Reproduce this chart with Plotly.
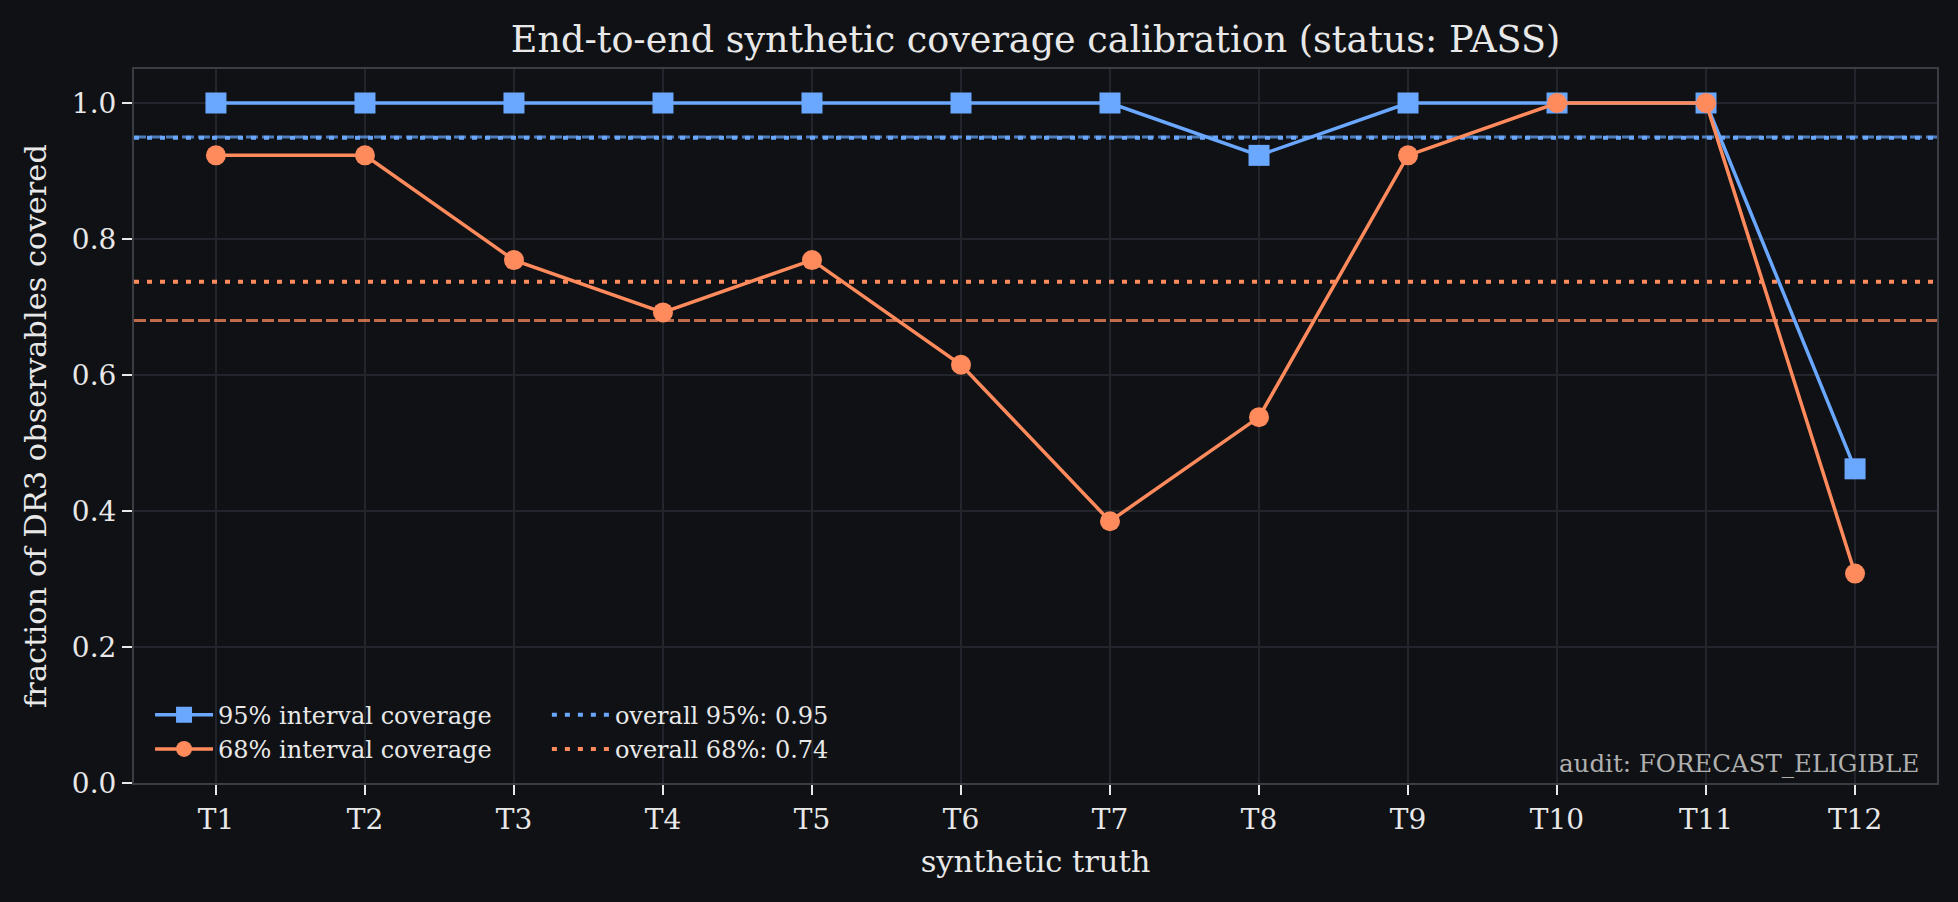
import plotly.graph_objects as go

truths = ["T1", "T2", "T3", "T4", "T5", "T6", "T7", "T8", "T9", "T10", "T11", "T12"]
cov95 = [1.0, 1.0, 1.0, 1.0, 1.0, 1.0, 1.0, 0.923, 1.0, 1.0, 1.0, 0.462]
cov68 = [0.923, 0.923, 0.769, 0.692, 0.769, 0.615, 0.385, 0.538, 0.923, 1.0, 1.0, 0.308]
overall95 = 0.949
overall68 = 0.737
nominal95 = 0.95
nominal68 = 0.68
yticks = [0.0, 0.2, 0.4, 0.6, 0.8, 1.0]

BG = "#0f1115"
BLUE = "#6aa8ff"
ORANGE = "#ff8a5c"
GRID = "#22252b"
SPINE = "#3a3d44"
TXT = "#e8e8e8"
FONT = "DejaVu Serif"

xi = list(range(len(truths)))
xr = [-0.55, len(truths) - 1 + 0.55]

fig = go.Figure()

# nominal reference lines (dashed)
fig.add_trace(go.Scatter(x=xr, y=[nominal95, nominal95], mode="lines",
                         line=dict(color="rgba(106,168,255,0.7)", width=3, dash="12px,4px"),
                         showlegend=False, hoverinfo="skip"))
fig.add_trace(go.Scatter(x=xr, y=[nominal68, nominal68], mode="lines",
                         line=dict(color="rgba(255,138,92,0.75)", width=3, dash="12px,4px"),
                         showlegend=False, hoverinfo="skip"))

# overall lines (dotted)
fig.add_trace(go.Scatter(x=xr, y=[overall95, overall95], mode="lines",
                         line=dict(color=BLUE, width=4, dash="5px,8px"),
                         name=f"overall 95%: {overall95:.2f}", legend="legend2"))
fig.add_trace(go.Scatter(x=xr, y=[overall68, overall68], mode="lines",
                         line=dict(color=ORANGE, width=4, dash="5px,8px"),
                         name=f"overall 68%: {overall68:.2f}", legend="legend2"))

fig.add_trace(go.Scatter(x=xi, y=cov95, mode="lines+markers",
                         line=dict(color=BLUE, width=3.5),
                         marker=dict(symbol="square", size=21, color=BLUE),
                         name="95% interval coverage", legend="legend"))
fig.add_trace(go.Scatter(x=xi, y=cov68, mode="lines+markers",
                         line=dict(color=ORANGE, width=3.5),
                         marker=dict(symbol="circle", size=20, color=ORANGE),
                         name="68% interval coverage", legend="legend"))

legend_common = dict(font=dict(family=FONT, size=24, color=TXT), bgcolor="rgba(0,0,0,0)",
                     borderwidth=0, xanchor="left", yanchor="bottom", traceorder="normal",
                     itemwidth=58)

fig.update_layout(
    width=1958, height=902,
    paper_bgcolor=BG, plot_bgcolor=BG,
    margin=dict(l=134, r=21, t=69, b=119),
    font=dict(family=FONT, color=TXT, size=28),
    title=dict(text="End-to-end synthetic coverage calibration (status: PASS)",
               x=0.5, xref="paper", xanchor="center", y=1 - 39 / 902, yanchor="middle",
               font=dict(family=FONT, size=36.5, color=TXT)),
    legend=dict(x=0.0089, y=0.016, **legend_common),
    legend2=dict(x=0.229, y=0.016, **legend_common),
    xaxis=dict(range=xr, tickmode="array", tickvals=xi, ticktext=truths,
               showgrid=True, gridcolor=GRID, gridwidth=1.5, zeroline=False,
               ticks="outside", ticklen=10, tickwidth=1.5, tickcolor=TXT,
               showline=True, linecolor=SPINE, linewidth=2, mirror=True,
               tickfont=dict(family=FONT, size=28, color=TXT),
               title=dict(text="synthetic truth", font=dict(family=FONT, size=30.5, color=TXT), standoff=16)),
    yaxis=dict(range=[0, 1.05], tickmode="array", tickvals=yticks,
               ticktext=[f"{v:.1f}" for v in yticks],
               showgrid=True, gridcolor=GRID, gridwidth=1.5, zeroline=False,
               ticks="outside", ticklen=10, tickwidth=1.5, tickcolor=TXT,
               showline=True, linecolor=SPINE, linewidth=2, mirror=True,
               tickfont=dict(family=FONT, size=28, color=TXT),
               title=dict(text="fraction of DR3 observables covered",
                          font=dict(family=FONT, size=30.5, color=TXT), standoff=16)),
    annotations=[dict(text="audit: FORECAST_ELIGIBLE", x=0.991, y=0.028, xref="paper", yref="paper",
                      xanchor="right", yanchor="middle", showarrow=False,
                      font=dict(family=FONT, size=24.5, color="#b0b0b0"))],
)

fig.write_html("out.html")
